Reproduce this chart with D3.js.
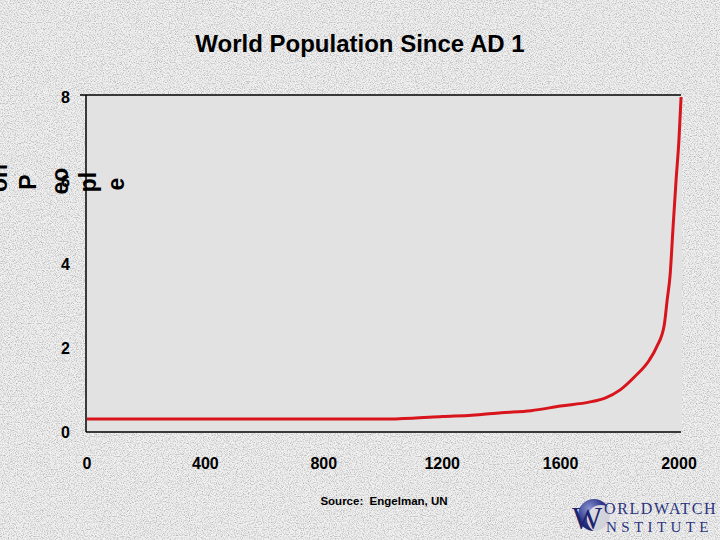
<!DOCTYPE html>
<html><head><meta charset="utf-8">
<script src="https://cdn.jsdelivr.net/npm/d3@7"></script>
<style>html,body{margin:0;padding:0;background:#e6e6e6;}svg{display:block;}</style>
</head><body>
<svg id="chart" width="720" height="540"></svg>
<script>
const years = [0, 200, 400, 600, 800, 1000, 1100, 1200, 1300, 1400, 1500, 1600, 1700, 1750, 1800, 1850, 1900, 1925, 1950, 1960, 1970, 1980, 1990, 2000, 2007];
const population = [0.31, 0.31, 0.31, 0.31, 0.31, 0.31, 0.33, 0.37, 0.40, 0.46, 0.51, 0.62, 0.72, 0.81, 1.0, 1.32, 1.72, 2.04, 2.55, 3.15, 3.75, 4.9, 6.0, 7.0, 8.0];
const xTicks = [0, 400, 800, 1200, 1600, 2000];
const yTicks = [0, 2, 4, 6, 8];
const titleText = "World Population Since AD 1";
const yTitleParts = ["on", "P", "eo", "pl", "e"];
const sourceText = "Source:\u00a0 Engelman, UN";

const svg = d3.select("#chart");
const W = 720, H = 540;
const plot = {left: 86, right: 682, top: 95, bottom: 432};
const FONT = "Liberation Sans, Arial, sans-serif";

// textured background
const defs = svg.append("defs");
const f = defs.append("filter").attr("id", "noise").attr("x", 0).attr("y", 0)
  .attr("width", "100%").attr("height", "100%").attr("color-interpolation-filters", "sRGB");
f.append("feTurbulence").attr("type", "fractalNoise").attr("baseFrequency", 0.85).attr("numOctaves", 2).attr("seed", 7).attr("result", "t");
f.append("feColorMatrix").attr("in", "t").attr("type", "matrix")
  .attr("values", "1.4 0 0 0 0.2  1.4 0 0 0 0.2  1.4 0 0 0 0.2  0 0 0 0 1");
svg.append("rect").attr("width", W).attr("height", H).attr("fill", "#e6e6e6");
svg.append("rect").attr("width", W).attr("height", H).attr("filter", "url(#noise)").attr("opacity", 0.4);

const x = d3.scaleLinear().domain([0, 2000]).range([87, 679]);
const y = d3.scaleLinear().domain([0, 8]).range([plot.bottom, 97]);

// plot area
svg.append("rect").attr("x", plot.left).attr("y", plot.top)
  .attr("width", plot.right - plot.left).attr("height", plot.bottom - plot.top)
  .attr("fill", "#e2e2e2");
svg.append("line").attr("x1", 80).attr("x2", plot.right - 1).attr("y1", plot.top).attr("y2", plot.top).attr("stroke", "#000").attr("stroke-width", 1.5);
svg.append("line").attr("x1", plot.left).attr("x2", plot.left).attr("y1", plot.top).attr("y2", plot.bottom).attr("stroke", "#000").attr("stroke-width", 1.5);
svg.append("line").attr("x1", plot.left).attr("x2", plot.right - 1).attr("y1", plot.bottom).attr("y2", plot.bottom).attr("stroke", "#000").attr("stroke-width", 1.5);

// y tick labels
svg.selectAll("text.ytick").data(yTicks).join("text")
  .attr("class", "ytick")
  .attr("x", 70).attr("y", d => y(d)).attr("dy", "0.36em")
  .attr("text-anchor", "end")
  .attr("font-family", FONT)
  .attr("font-weight", "bold").attr("font-size", 16)
  .text(d => d);

// y-axis title fragments (wrapped "Billion People" as in the original)
const yFragX = [-2, 27, 59, 87, 115];
const yFragY = [178, 182, 181, 182, 184];
svg.selectAll("text.ytitle").data(yTitleParts).join("text")
  .attr("class", "ytitle")
  .attr("transform", (d, i) => `translate(${yFragX[i] + 9},${yFragY[i]}) rotate(-90)`)
  .attr("text-anchor", "middle")
  .attr("font-family", FONT)
  .attr("font-weight", "bold").attr("font-size", 23)
  .attr("fill", "#000").text(d => d);

// x tick labels
svg.selectAll("text.xtick").data(xTicks).join("text")
  .attr("class", "xtick")
  .attr("x", d => x(d)).attr("y", 469)
  .attr("text-anchor", "middle")
  .attr("font-family", FONT)
  .attr("font-weight", "bold").attr("font-size", 16)
  .text(d => d);

// line
const line = d3.line().x((d, i) => x(years[i])).y(d => y(d)).curve(d3.curveMonotoneX);
svg.append("path").datum(population)
  .attr("d", line).attr("fill", "none")
  .attr("stroke", "#d8141c").attr("stroke-width", 3).attr("stroke-linejoin", "round");

// title
svg.append("text").attr("x", 360).attr("y", 52).attr("text-anchor", "middle")
  .attr("font-family", FONT)
  .attr("font-weight", "bold").attr("font-size", 24).text(titleText);

// source
svg.append("text").attr("x", 384).attr("y", 505).attr("text-anchor", "middle")
  .attr("font-family", FONT)
  .attr("font-weight", "bold").attr("font-size", 11.5).text(sourceText);

// logo
const logo = svg.append("g");
const lg = defs.append("radialGradient").attr("id", "lg").attr("cx", "35%").attr("cy", "30%").attr("r", "75%");
lg.append("stop").attr("offset", "0%").attr("stop-color", "#8a94d0");
lg.append("stop").attr("offset", "60%").attr("stop-color", "#2a3388");
lg.append("stop").attr("offset", "100%").attr("stop-color", "#141a60");
logo.append("circle").attr("cx", 594).attr("cy", 515).attr("r", 16).attr("fill", "url(#lg)");
logo.append("circle").attr("cx", 601).attr("cy", 519).attr("r", 14).attr("fill", "#e6e6e6").attr("opacity", 0.9);
logo.append("text").attr("x", 572).attr("y", 529)
  .attr("font-family", "Liberation Serif, Times New Roman, serif").attr("font-size", 32)
  .attr("fill", "#1c2470").text("W");
logo.append("text").attr("x", 604).attr("y", 514)
  .attr("font-family", "Liberation Serif, Times New Roman, serif").attr("font-size", 16)
  .attr("letter-spacing", 1.6).attr("fill", "#2a3380").text("ORLDWATCH");
logo.append("text").attr("x", 606).attr("y", 532)
  .attr("font-family", "Liberation Serif, Times New Roman, serif").attr("font-size", 15)
  .attr("letter-spacing", 4.4).attr("fill", "#2a3380").text("NSTITUTE");
</script>
</body></html>
